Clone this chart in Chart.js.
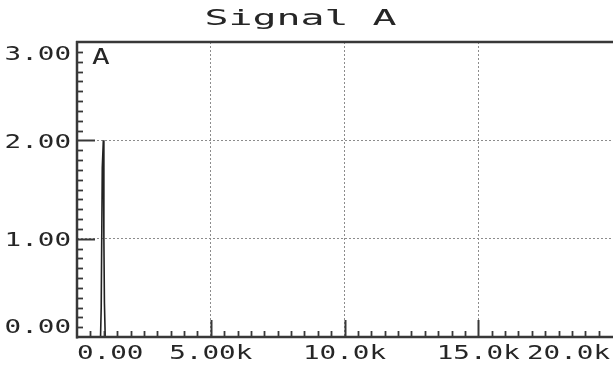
<!DOCTYPE html>
<html>
<head>
<meta charset="utf-8">
<script src="https://cdn.jsdelivr.net/npm/chart.js@4/dist/chart.umd.min.js"></script>
<style>
  html, body { margin: 0; padding: 0; background: #ffffff; }
  canvas { display: block; }
</style>
</head>
<body>
<canvas id="c" width="613" height="370"></canvas>
<script>
// Spectrum of trace A: frequency (Hz) against amplitude
const chartTitle = 'Signal A';
const seriesName = 'A';
const freqHz    = [0, 880, 905, 945, 985, 1005, 1025, 1055, 20000];
const amplitude = [0, 0,   0.3, 1.72, 2.0, 1.0,  0.35, 0,    0];

const xTickValues = [0, 5000, 10000, 15000, 20000];
const xTickLabels = ['0.00', '5.00k', '10.0k', '15.0k', '20.0k'];
const yTickValues = [0, 1, 2, 3];
const yTickLabels = ['0.00', '1.00', '2.00', '3.00'];
const xMinorStep = 500;
const yMinorStep = 0.1;

const ink = '#262626';
const frame = '#383838';
const dotted = '#8c8c8c';
const monoFont = '"DejaVu Sans Mono", "Liberation Mono", monospace';

function widthOf(ctx, text, size, sx) {
  ctx.save();
  ctx.font = size + 'px ' + monoFont;
  const w = ctx.measureText(text).width * sx;
  ctx.restore();
  return w;
}

// wide instrument-style lettering: glyphs stretched horizontally
function wideText(ctx, text, left, baseline, size, sx) {
  ctx.save();
  ctx.font = size + 'px ' + monoFont;
  ctx.fillStyle = ink;
  ctx.textAlign = 'left';
  ctx.textBaseline = 'alphabetic';
  ctx.translate(left, baseline);
  ctx.scale(sx, 1);
  ctx.fillText(text, 0, 0);
  ctx.restore();
}

function segment(ctx, x1, y1, x2, y2, w) {
  ctx.beginPath();
  ctx.lineWidth = w;
  ctx.moveTo(x1, y1);
  ctx.lineTo(x2, y2);
  ctx.stroke();
}

const scopeDecor = {
  id: 'scopeDecor',
  afterDraw(chart) {
    const ctx = chart.ctx;
    const a = chart.chartArea;
    const xs = chart.scales.x;
    const ys = chart.scales.y;

    ctx.save();
    ctx.strokeStyle = frame;
    ctx.setLineDash([]);

    // solid frame: top edge, left axis, bottom axis
    segment(ctx, a.left - 1, a.top, chart.width, a.top, 2.5);
    segment(ctx, a.left, a.top - 1, a.left, a.bottom + 1.5, 2.5);
    segment(ctx, a.left - 1, a.bottom, chart.width, a.bottom, 2.5);

    // inward ticks along the bottom axis
    for (let v = xs.min + xMinorStep; v < xs.max - 1e-6; v += xMinorStep) {
      const px = Math.round(xs.getPixelForValue(v)) + 0.5;
      const major = xTickValues.includes(v);
      segment(ctx, px, a.bottom, px, a.bottom - (major ? 17 : 6), major ? 2 : 1.8);
    }
    // inward ticks along the left axis
    const nY = Math.round((ys.max - ys.min) / yMinorStep);
    for (let i = 1; i < nY; i++) {
      const v = ys.min + i * yMinorStep;
      const py = Math.round(ys.getPixelForValue(v)) + 0.5;
      const major = i % 10 === 0;
      segment(ctx, a.left, py, a.left + (major ? 18 : 6), py, major ? 2 : 1.8);
    }
    ctx.restore();

    const size = 20, sx = 1.38, capH = 14.6;

    // bottom tick labels, kept inside the plotted span
    xTickValues.forEach((v, i) => {
      const w = widthOf(ctx, xTickLabels[i], size, sx);
      let left = xs.getPixelForValue(v) - w / 2;
      left = Math.max(left, a.left);
      left = Math.min(left, chart.width - 3 - w);
      wideText(ctx, xTickLabels[i], left, a.bottom + 22, size, sx);
    });

    // left tick labels, kept inside the plotted height
    yTickValues.forEach((v, i) => {
      const w = widthOf(ctx, yTickLabels[i], size, sx);
      let mid = ys.getPixelForValue(v);
      mid = Math.max(mid, a.top + 3 + capH / 2);
      mid = Math.min(mid, a.bottom - 4 - capH / 2);
      wideText(ctx, yTickLabels[i], a.left - 6 - w, mid + capH / 2, size, sx);
    });

    // trace name in the upper-left corner
    wideText(ctx, chart.data.datasets[0].label, a.left + 15, a.top + 22, 21, 1.4);

    // title
    const tw = widthOf(ctx, chartTitle, 21, 1.9);
    wideText(ctx, chartTitle, chart.width / 2 - 6 - tw / 2, 25, 21, 1.9);
  }
};

new Chart(document.getElementById('c'), {
  type: 'line',
  data: {
    datasets: [{
      label: seriesName,
      data: freqHz.map((f, i) => ({ x: f, y: amplitude[i] })),
      borderColor: '#222222',
      borderWidth: 1.6,
      pointRadius: 0,
      tension: 0,
      fill: false
    }]
  },
  options: {
    responsive: false,
    animation: false,
    devicePixelRatio: 1,
    layout: { padding: { left: 77, right: 1, top: 42, bottom: 33 } },
    plugins: {
      legend: { display: false },
      title: { display: false },
      tooltip: { enabled: false }
    },
    scales: {
      x: {
        type: 'linear',
        min: 0,
        max: 20000,
        afterBuildTicks: s => { s.ticks = xTickValues.map(v => ({ value: v })); },
        afterFit: s => { s.height = 0; },
        ticks: { display: false },
        grid: {
          drawTicks: false,
          lineWidth: 1,
          color: c => (c.tick && c.tick.value > 0 && c.tick.value < 20000) ? dotted : 'rgba(0,0,0,0)'
        },
        border: { display: false, dash: [2, 2] }
      },
      y: {
        type: 'linear',
        min: 0,
        max: 3,
        afterBuildTicks: s => { s.ticks = yTickValues.map(v => ({ value: v })); },
        afterFit: s => { s.width = 0; },
        ticks: { display: false },
        grid: {
          drawTicks: false,
          lineWidth: 1,
          color: c => (c.tick && c.tick.value > 0 && c.tick.value < 3) ? dotted : 'rgba(0,0,0,0)'
        },
        border: { display: false, dash: [2, 2] }
      }
    }
  },
  plugins: [scopeDecor]
});
</script>
</body>
</html>
